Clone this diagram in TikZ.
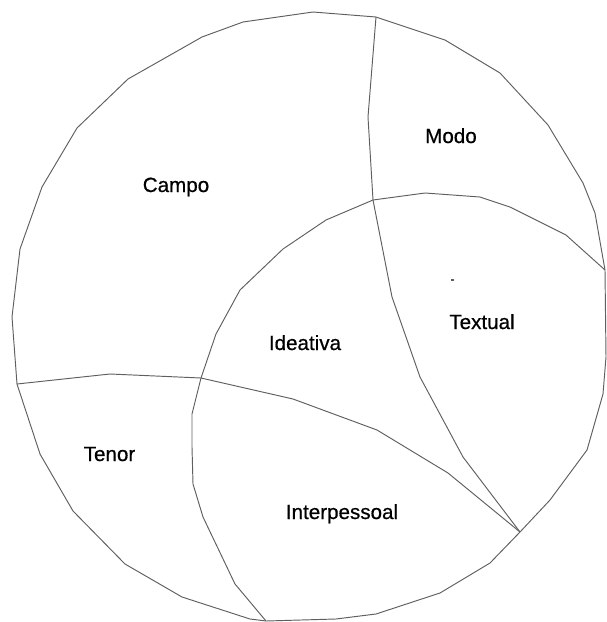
\documentclass[tikz,border=0pt]{standalone}
\usepackage{fontspec}
\setmainfont{Liberation Sans}
\newfontface\lblfont{Liberation Sans}[FakeBold=0.6]
\begin{document}
\begin{tikzpicture}[x=1pt,y=-1pt,
  edge/.style={draw={rgb,255:red,95;green,95;blue,95},line width=0.95pt,line join=round},
  lbl/.style={anchor=base,inner sep=0pt,font=\lblfont\fontsize{20.6}{24}\selectfont,text=black}]
\useasboundingbox (0,0) rectangle (606,622);
% junctions
\coordinate (T) at (376,17);
\coordinate (R) at (605,270);
\coordinate (S) at (520,532);
\coordinate (B) at (266,621);
\coordinate (L) at (17,384);
\coordinate (J1) at (373,200);
\coordinate (J2) at (201,378);
% outer polygonal circle
\draw[edge] (313,12) -- (T) -- (445,40) -- (500,73) -- (548,125) -- (583,183) -- (595,213)
  -- (R) -- (606,357) -- (603,394) -- (587,450) -- (550,500) -- (S) -- (490,563)
  -- (440,593) -- (376,614) -- (336,619) -- (B) -- (250,619) -- (182,597) -- (125,564)
  -- (73,511) -- (40,454) -- (L) -- (12,317) -- (20,249) -- (42,187) -- (77,128)
  -- (128,79) -- (202,37) -- (243,22) -- cycle;
% inner polygonal circle
\draw[edge] (R) -- (566,235) -- (510,207) -- (480,197) -- (425,193) -- (J1) -- (326,220)
  -- (283,249) -- (240,290) -- (216,334) -- (J2) -- (192,414) -- (192,447) -- (193,484)
  -- (203,517) -- (235,584) -- (B);
% Campo / Modo and Ideativa / Textual divider
\draw[edge] (T) -- (368,117) -- (J1) -- (392,297) -- (420,377) -- (463,457) -- (S);
% Campo / Tenor divider
\draw[edge] (L) -- (110,374) -- (J2);
% Ideativa / Interpessoal divider
\draw[edge] (J2) -- (293,399) -- (377,430) -- (448,473) -- (S);
% small mark
\draw[edge,line width=1.3pt] (450.5,280) -- (453.5,280);
% labels
\node[lbl] (campo) at (176,192) {Campo};
\node[lbl] (modo) at (451,143) {Modo};
\node[lbl] (ideativa) at (305,350) {Ideativa};
\node[lbl] (textual) at (482,329) {Textual};
\node[lbl] (tenor) at (109.5,461) {Tenor};
\node[lbl] (interpessoal) at (342,519) {Interpessoal};
\end{tikzpicture}
\end{document}
